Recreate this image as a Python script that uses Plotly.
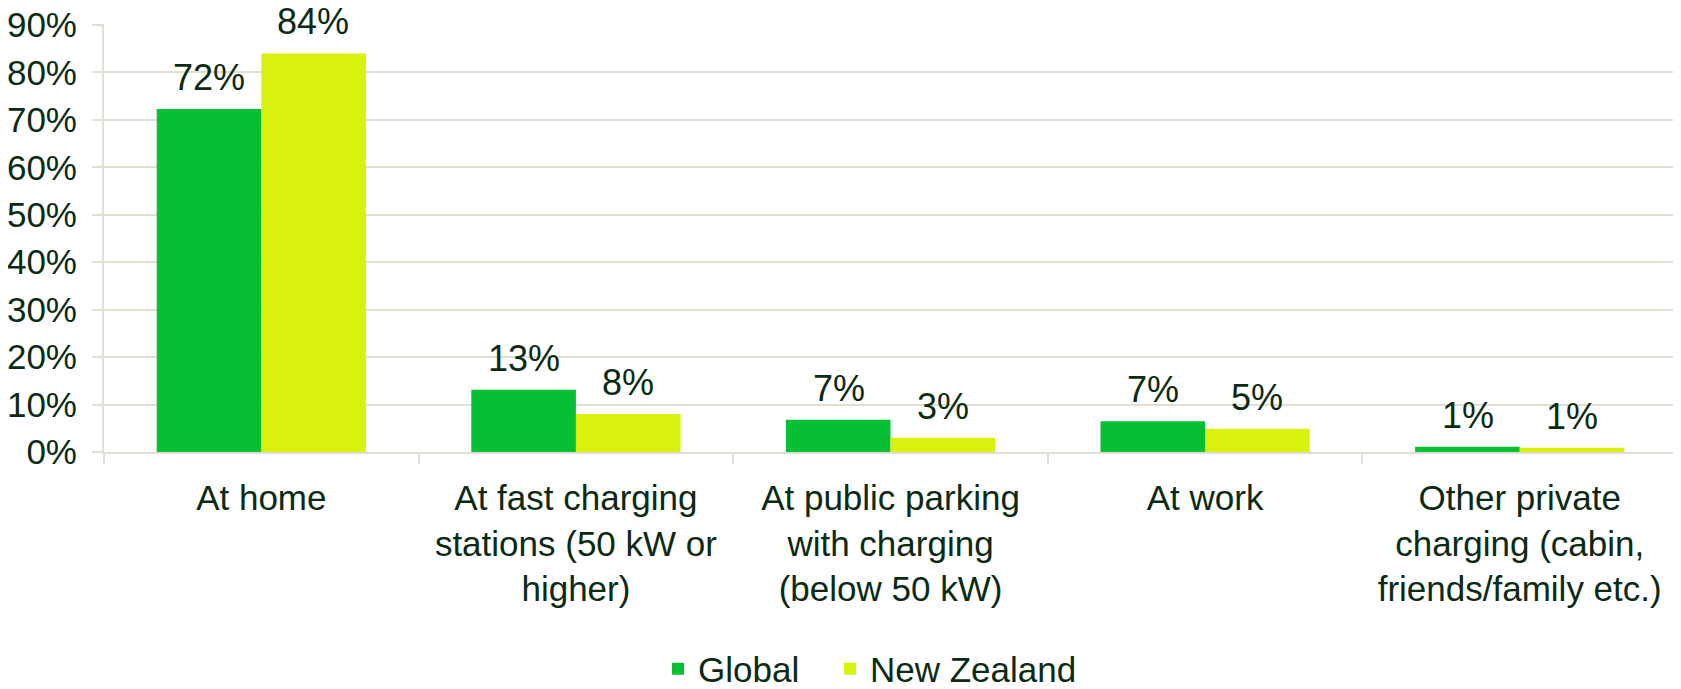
import plotly.graph_objects as go

categories = [
    "At home",
    "At fast charging<br>stations (50 kW or<br>higher)",
    "At public parking<br>with charging<br>(below 50 kW)",
    "At work",
    "Other private<br>charging (cabin,<br>friends/family etc.)",
]
global_vals = [72.3, 13.1, 6.8, 6.5, 1.1]
nz_vals = [84.0, 8.0, 3.0, 4.9, 0.9]
global_labels = ["72%", "13%", "7%", "7%", "1%"]
nz_labels = ["84%", "8%", "3%", "5%", "1%"]

green = "#06bf35"
yellow = "#d8f20e"
text_col = "#0b2a12"
grid_col = "#e3ded3"
font = "Liberation Sans, Arial, sans-serif"

fig = go.Figure()
fig.add_trace(go.Bar(x=categories, y=global_vals, name="Global",
                     marker=dict(color=green, line=dict(width=0)),
                     legend="legend"))
fig.add_trace(go.Bar(x=categories, y=nz_vals, name="New Zealand",
                     marker=dict(color=yellow, line=dict(width=0)),
                     legend="legend2"))

# value labels above the bars
for cat, v, lab in zip(categories, global_vals, global_labels):
    fig.add_annotation(x=cat, y=v, text=lab, showarrow=False, xshift=-52,
                       yanchor="bottom", yshift=10, borderpad=0,
                       font=dict(size=36, color=text_col, family=font))
for cat, v, lab in zip(categories, nz_vals, nz_labels):
    fig.add_annotation(x=cat, y=v, text=lab, showarrow=False, xshift=52,
                       yanchor="bottom", yshift=10, borderpad=0,
                       font=dict(size=36, color=text_col, family=font))

# page body adds an 8px margin, so the figure is a bit smaller than the window
fig.update_layout(
    width=1673, height=681,
    margin=dict(l=96, r=4, t=16, b=237, autoexpand=False),
    plot_bgcolor="white", paper_bgcolor="white",
    barmode="group", bargap=0.335, bargroupgap=0,
    font=dict(family=font, color=text_col, size=35),
    legend=dict(orientation="h", x=0.3522, xanchor="left", y=-0.507,
                yanchor="middle", font=dict(size=35)),
    legend2=dict(orientation="h", x=0.4615, xanchor="left", y=-0.507,
                 yanchor="middle", font=dict(size=35)),
    showlegend=True,
)
# range goes a hair past 90 so the top gridline is kept
fig.update_yaxes(range=[0, 90.2], dtick=10, ticksuffix="%", automargin=False,
                 showgrid=True, gridcolor=grid_col, gridwidth=2,
                 showline=True, linecolor=grid_col, linewidth=2,
                 ticks="outside", ticklen=10, tickcolor=grid_col, tickwidth=2,
                 zeroline=False, tickfont=dict(size=35), ticklabelstandoff=8,
                 ticklabeloverflow="allow")
fig.update_xaxes(showline=True, linecolor=grid_col, linewidth=2, automargin=False,
                 ticks="outside", tickson="boundaries", ticklen=10,
                 tickcolor=grid_col, tickwidth=2, ticklabelstandoff=14,
                 tickfont=dict(size=35))

fig.write_html("out.html")
